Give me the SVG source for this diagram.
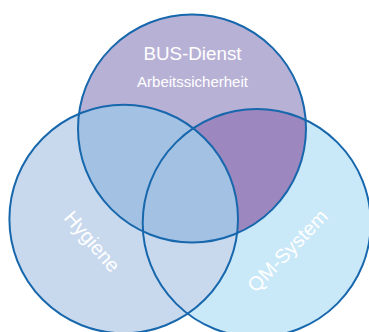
<svg xmlns="http://www.w3.org/2000/svg" width="369" height="332" viewBox="0 0 369 332">
<style>
.ring{fill:none;stroke:#1767ad;stroke-width:2}
.lbl{font-family:"Liberation Sans",Arial,sans-serif;fill:#ffffff;text-anchor:middle}
</style>
<defs>
<clipPath id="cTop"><circle cx="192" cy="128.5" r="114"/></clipPath>
</defs>
<rect width="369" height="332" fill="#ffffff"/>
<g id="qm-system">
<circle cx="256.7" cy="223" r="114" fill="#c9e8f8"/>
</g>
<g id="hygiene">
<circle cx="123.7" cy="219" r="114.3" fill="#c8d9ee"/>
</g>
<g id="bus-dienst">
<circle cx="192" cy="128.5" r="114" fill="#b8b1d6"/>
</g>
<g id="overlaps">
<g clip-path="url(#cTop)"><circle cx="256.7" cy="223" r="114" fill="#9c88be"/></g>
<g clip-path="url(#cTop)"><circle cx="123.7" cy="219" r="114.3" fill="#a3c1e3"/></g>
</g>
<g id="outlines">
<circle class="ring" cx="256.7" cy="223" r="114"/>
<circle class="ring" cx="123.7" cy="219" r="114.3"/>
<circle class="ring" cx="192" cy="128.5" r="114"/>
</g>
<g id="labels">
<text class="lbl" x="192.5" y="60" font-size="18.8">BUS-Dienst</text>
<text class="lbl" x="192.5" y="87" font-size="15">Arbeitssicherheit</text>
<text class="lbl" x="0" y="0" font-size="20" transform="translate(87,246) rotate(49)">Hygiene</text>
<text class="lbl" x="0" y="0" font-size="20" transform="translate(292.5,255.5) rotate(-46)">QM-System</text>
</g>
</svg>
